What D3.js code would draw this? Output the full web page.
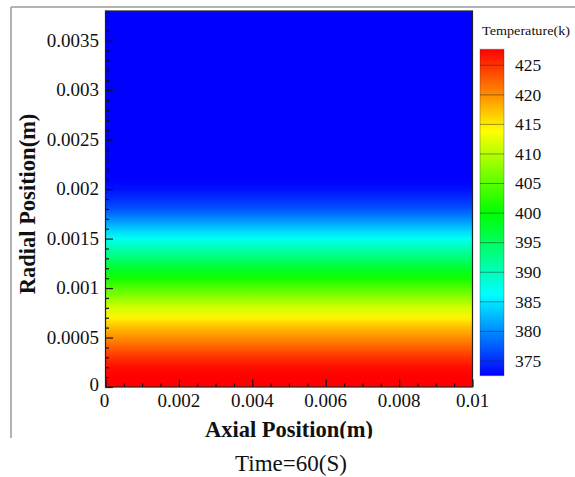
<!DOCTYPE html>
<html>
<head>
<meta charset="utf-8">
<script src="https://cdn.jsdelivr.net/npm/d3@7"></script>
<style>
  html, body { margin: 0; padding: 0; background: #fff; }
  svg { display: block; }
  text { font-family: "Liberation Serif", "Times New Roman", Times, serif; fill: #111; }
</style>
</head>
<body>
<svg id="chart" width="575" height="477"></svg>
<script>
// ---- data ----
const radialPos = [0, 0.0001, 0.0002, 0.0003, 0.0004, 0.0005, 0.0006, 0.0007, 0.0008, 0.0009,
  0.0010, 0.0011, 0.0012, 0.0013, 0.0014, 0.0015, 0.0016, 0.0017, 0.0018, 0.0019,
  0.0020, 0.0021, 0.0022, 0.0023, 0.0038];
const temperature = [429, 428.5, 427, 425, 422.5, 420, 417.5, 414.5, 411.5, 408,
  404.5, 401, 397.5, 394, 390.5, 387, 383.5, 380, 377, 375,
  373.3, 372.4, 372, 371.7, 371.5];
const xTicks = [0, 0.002, 0.004, 0.006, 0.008, 0.01];
const yTicks = [0, 0.0005, 0.001, 0.0015, 0.002, 0.0025, 0.003, 0.0035];
const legendLevels = [375, 380, 385, 390, 395, 400, 405, 410, 415, 420, 425];
const tempRange = [372.5, 427.7];
const rainbow = ["#0000ff", "#00ffff", "#00ff00", "#ffff00", "#ff0000"];
const xLabel = "Axial Position(m)";
const yLabel = "Radial Position(m)";
const legendTitle = "Temperature(k)";
const caption = "Time=60(S)";

// ---- layout ----
const svg = d3.select("#chart");
const x = d3.scaleLinear().domain([0, 0.01]).range([105.5, 472.5]);
const y = d3.scaleLinear().domain([0, 0.0038]).range([387, 11]);
const color = d3.scaleLinear()
  .domain(d3.range(rainbow.length).map(i => tempRange[0] + i * (tempRange[1] - tempRange[0]) / (rainbow.length - 1)))
  .range(rainbow).clamp(true);

const defs = svg.append("defs");

// outer frame (clipped screenshot edges)
svg.append("line").attr("x1", 11).attr("x2", 575).attr("y1", 7).attr("y2", 7)
  .attr("stroke", "#9a9a9a").attr("stroke-width", 1.5);
svg.append("line").attr("x1", 11).attr("x2", 11).attr("y1", 7).attr("y2", 438)
  .attr("stroke", "#9a9a9a").attr("stroke-width", 1.5);

// field gradient from data
const fg = defs.append("linearGradient").attr("id", "field")
  .attr("gradientUnits", "userSpaceOnUse")
  .attr("x1", 0).attr("x2", 0).attr("y1", y(0)).attr("y2", y(y.domain()[1]));
const ymax = y.domain()[1];
radialPos.forEach((r, i) => {
  fg.append("stop").attr("offset", r / ymax).attr("stop-color", color(temperature[i]));
});
svg.append("rect")
  .attr("x", x(0)).attr("y", y(ymax))
  .attr("width", x(0.01) - x(0)).attr("height", y(0) - y(ymax))
  .attr("fill", "url(#field)");

// axes with inward ticks
const gx = svg.append("g").attr("transform", `translate(0,${y(0)})`);
gx.call(d3.axisTop(x).tickValues(d3.range(0, 0.01001, 0.0005)).tickSize(3.5).tickFormat(""));
gx.call(g => g.selectAll(".tick").filter(d => xTicks.some(t => Math.abs(t - d) < 1e-9)).select("line").attr("y2", -7.5));
gx.select(".domain").remove();
gx.selectAll(".tick line").attr("stroke", "#111").attr("stroke-width", 1.2);

const gy = svg.append("g").attr("transform", `translate(${x(0)},0)`);
gy.call(d3.axisRight(y).tickValues(d3.range(0, 0.00381, 0.0001)).tickSize(3.5).tickFormat(""));
gy.call(g => g.selectAll(".tick").filter(d => yTicks.some(t => Math.abs(t - d) < 1e-9)).select("line").attr("x2", 7.5));
gy.select(".domain").remove();
gy.selectAll(".tick line").attr("stroke", "#111").attr("stroke-width", 1.2);

// plot border
svg.append("rect")
  .attr("x", x(0)).attr("y", y(ymax))
  .attr("width", x(0.01) - x(0)).attr("height", y(0) - y(ymax))
  .attr("fill", "none").attr("stroke", "#222").attr("stroke-width", 1.2);

// tick labels
const fmt = d => d === 0 ? "0" : String(+d.toPrecision(3));
svg.selectAll(".xl").data(xTicks).enter().append("text")
  .attr("x", d => x(d) + (d === 0 ? -1 : 0)).attr("y", 407)
  .attr("text-anchor", "middle").attr("font-size", 19)
  .text(fmt);
svg.selectAll(".yl").data(yTicks).enter().append("text")
  .attr("x", 99).attr("y", d => y(d) + (d === 0 ? 0 : 0))
  .attr("dy", d => d === 0 ? "0.2em" : "0.33em")
  .attr("text-anchor", "end").attr("font-size", 19)
  .text(fmt);

// axis titles
svg.append("text").attr("x", (x(0) + x(0.01)) / 2).attr("y", 437)
  .attr("text-anchor", "middle").attr("font-size", 22.5).attr("font-weight", "bold")
  .text(xLabel);
svg.append("text")
  .attr("transform", `translate(35,${y(0.00185)}) rotate(-90)`)
  .attr("text-anchor", "middle").attr("font-size", 22.5).attr("font-weight", "bold")
  .text(yLabel);

// clip region bottom (screenshot edge cut the axial label)
svg.append("rect").attr("x", 0).attr("y", 438.5).attr("width", 575).attr("height", 10).attr("fill", "#fff");

// caption
svg.append("text").attr("x", 291).attr("y", 471)
  .attr("text-anchor", "middle").attr("font-size", 23)
  .text(caption);

// legend
const ly = d3.scaleLinear().domain(tempRange).range([375.7, 49.3]);
const lg = defs.append("linearGradient").attr("id", "legend")
  .attr("gradientUnits", "userSpaceOnUse")
  .attr("x1", 0).attr("x2", 0).attr("y1", ly(tempRange[0])).attr("y2", ly(tempRange[1]));
color.domain().forEach((t, i) => {
  lg.append("stop").attr("offset", (t - tempRange[0]) / (tempRange[1] - tempRange[0]))
    .attr("stop-color", rainbow[i]);
});
svg.append("rect").attr("x", 480).attr("y", ly(tempRange[1]))
  .attr("width", 24).attr("height", ly(tempRange[0]) - ly(tempRange[1]))
  .attr("fill", "url(#legend)").attr("stroke", "#333").attr("stroke-opacity", 0.35);
svg.selectAll(".lvl").data(legendLevels).enter().append("line")
  .attr("x1", 480).attr("x2", 504).attr("y1", d => ly(d)).attr("y2", d => ly(d))
  .attr("stroke", "#222").attr("stroke-opacity", 0.45).attr("stroke-width", 1);
svg.selectAll(".lvlt").data(legendLevels).enter().append("text")
  .attr("x", 515).attr("y", d => ly(d)).attr("dy", "0.33em")
  .attr("font-size", 17.5).text(d => d);
svg.append("text").attr("x", 482).attr("y", 35)
  .attr("font-size", 13).attr("textLength", 88).attr("lengthAdjust", "spacingAndGlyphs")
  .text(legendTitle);
</script>
</body>
</html>
